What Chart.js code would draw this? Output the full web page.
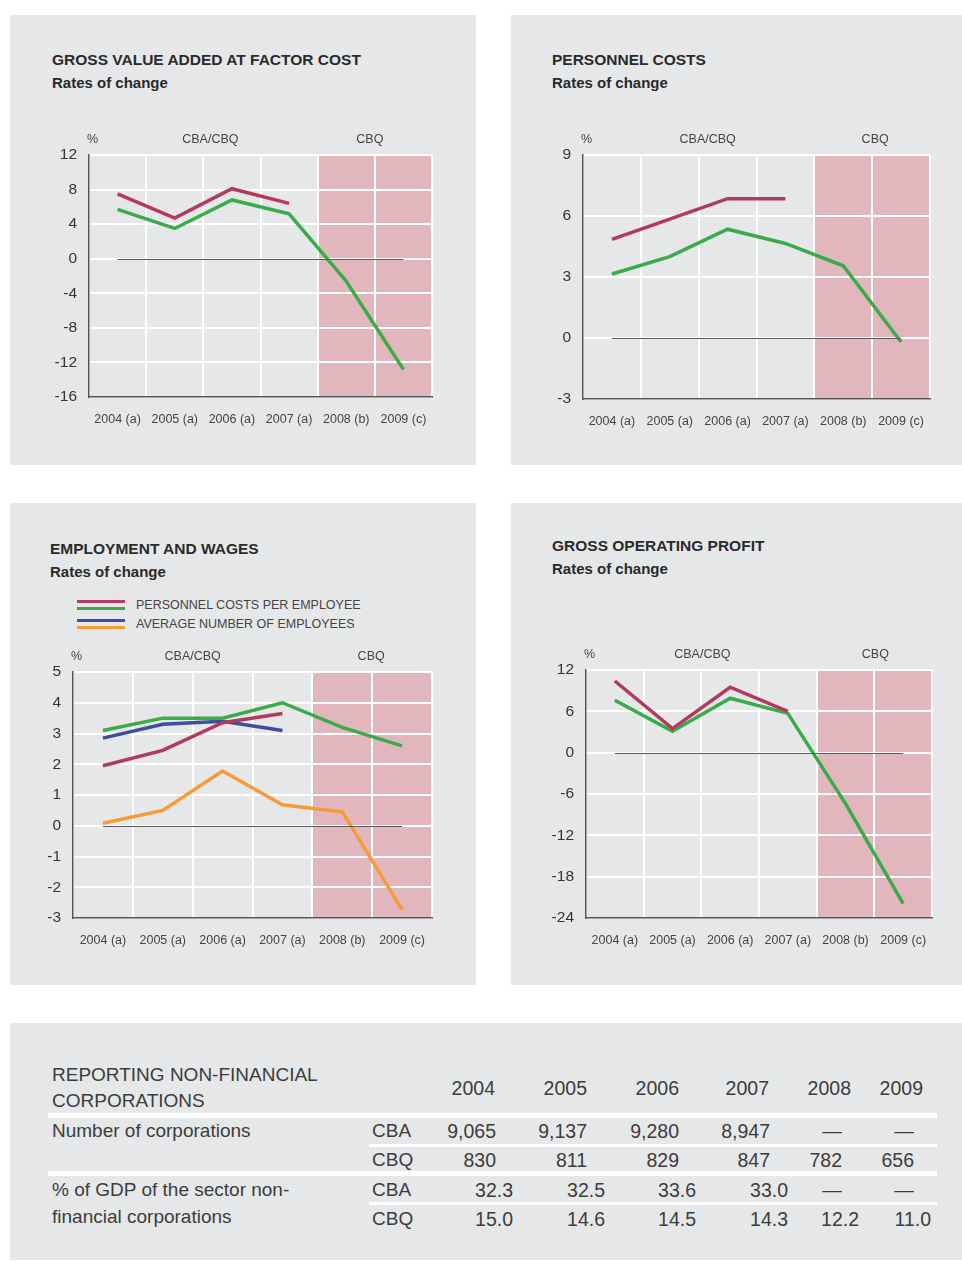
<!DOCTYPE html>
<html>
<head>
<meta charset="utf-8">
<script src="https://cdn.jsdelivr.net/npm/chart.js@4.4.1/dist/chart.umd.min.js"></script>
<style>
body { margin: 0; background: #fff; font-family: "Liberation Sans", Arial, sans-serif; }
#page { position: relative; width: 962px; height: 1261px; overflow: hidden; }
.panel { position: absolute; background: #e6e7e9; }
.title { position: absolute; font-weight: bold; font-size: 15.5px; color: #2a2a2a; line-height: 20px; white-space: nowrap; }
.sub { position: absolute; font-weight: bold; font-size: 15px; color: #2a2a2a; line-height: 20px; white-space: nowrap; }
.lg { position: absolute; font-size: 12.5px; color: #444; line-height: 16px; white-space: nowrap; }
.sw { position: absolute; height: 3.5px; width: 48px; }
canvas { position: absolute; }
.cell { position: absolute; font-size: 19.5px; color: #3c3c3c; line-height: 24px; white-space: nowrap; }
.cell.txt { font-size: 19px; }
.rule { position: absolute; background: #fff; }
</style>
</head>
<body>
<div id="page">
  <div class="panel" style="left:10px;top:15px;width:466px;height:450px"></div>
  <div class="panel" style="left:511px;top:15px;width:451px;height:450px"></div>
  <div class="panel" style="left:10px;top:503px;width:466px;height:482px"></div>
  <div class="panel" style="left:511px;top:503px;width:451px;height:482px"></div>
  <div class="panel" id="tablePanel" style="left:10px;top:1023px;width:952px;height:237px"></div>

  <div class="title" style="left:52px;top:50px">GROSS VALUE ADDED AT FACTOR COST</div>
  <div class="sub" style="left:52px;top:73px">Rates of change</div>
  <div class="title" style="left:552px;top:50px">PERSONNEL COSTS</div>
  <div class="sub" style="left:552px;top:73px">Rates of change</div>
  <div class="title" style="left:50px;top:539px">EMPLOYMENT AND WAGES</div>
  <div class="sub" style="left:50px;top:562px">Rates of change</div>
  <div class="title" style="left:552px;top:536px">GROSS OPERATING PROFIT</div>
  <div class="sub" style="left:552px;top:559px">Rates of change</div>

  <div id="legend"></div>

  <canvas id="c1"></canvas>
  <canvas id="c2"></canvas>
  <canvas id="c3"></canvas>
  <canvas id="c4"></canvas>
</div>

<script>
// ------------------------------
// DATA
// ------------------------------

const years = ["2004 (a)", "2005 (a)", "2006 (a)", "2007 (a)", "2008 (b)", "2009 (c)"];

// gross value added at factor cost
const gvaCba = [7.5, 4.7, 8.1, 6.4, null, null];
const gvaCbq = [5.7, 3.5, 6.8, 5.2, -2.6, -12.8];
const gvaTicks = [-16, -12, -8, -4, 0, 4, 8, 12];

// personnel costs
const pcCba = [4.85, 5.85, 6.85, 6.85, null, null];
const pcCbq = [3.15, 4.0, 5.35, 4.65, 3.55, -0.2];
const pcTicks = [-3, 0, 3, 6, 9];

// employment and wages
const costPerEmpCba = [1.95, 2.45, 3.35, 3.65, null, null];
const costPerEmpCbq = [3.1, 3.5, 3.5, 4.0, 3.2, 2.6];
const avgEmpCba = [2.85, 3.3, 3.4, 3.1, null, null];
const avgEmpCbq = [0.08, 0.5, 1.78, 0.68, 0.45, -2.73];
const empTicks = [-3, -2, -1, 0, 1, 2, 3, 4, 5];

// gross operating profit
const gopCba = [10.4, 3.5, 9.5, 6.0, null, null];
const gopCbq = [7.6, 3.1, 7.9, 5.7, -7.4, -21.9];
const gopTicks = [-24, -18, -12, -6, 0, 6, 12];

// reporting corporations table
const tableYears = ["2004", "2005", "2006", "2007", "2008", "2009"];
const corpCba = ["9,065", "9,137", "9,280", "8,947", "—", "—"];
const corpCbq = ["830", "811", "829", "847", "782", "656"];
const gdpCba = ["32.3", "32.5", "33.6", "33.0", "—", "—"];
const gdpCbq = ["15.0", "14.6", "14.5", "14.3", "12.2", "11.0"];

const RED = "#b3395f";
const GREEN = "#3bab49";
const BLUE = "#3c4e9c";
const ORANGE = "#f59b38";
const FONT = '"Liberation Sans", Arial, sans-serif';


// ------------------------------
// CHART HELPERS
// ------------------------------

// pink CBQ band behind the grid, zero line and header labels on top
const panelDecor = {
    id: "panelDecor",
    beforeDraw(chart) {
        const { ctx, chartArea: a, scales: { x } } = chart;
        const split = (x.getPixelForValue(3) + x.getPixelForValue(4)) / 2;
        ctx.save();
        ctx.fillStyle = "#e1b6bd";
        ctx.fillRect(split, a.top, a.right - split, a.bottom - a.top);
        ctx.restore();
    },
    afterDatasetsDraw(chart, args, opts) {
        const { ctx, chartArea: a, scales: { x, y } } = chart;
        const y0 = Math.round(y.getPixelForValue(0)) + 0.5;
        ctx.save();
        ctx.strokeStyle = "#5c5c5c";
        ctx.lineWidth = 1.2;
        ctx.beginPath();
        ctx.moveTo(x.getPixelForValue(0), y0);
        ctx.lineTo(x.getPixelForValue(5), y0);
        ctx.stroke();

        ctx.font = "12.5px " + FONT;
        ctx.fillStyle = "#444";
        ctx.textBaseline = "middle";
        const ty = a.top - 15;
        ctx.textAlign = "left";
        ctx.fillText("%", a.left - 2, ty);
        ctx.textAlign = "center";
        ctx.fillText("CBA/CBQ", (x.getPixelForValue(1) + x.getPixelForValue(2)) / 2 + opts.shiftA, ty);
        ctx.fillText("CBQ", (x.getPixelForValue(4) + x.getPixelForValue(5)) / 2 + opts.shiftB, ty);
        ctx.restore();
    }
};

function series(data, color) {
    return {
        data: data,
        borderColor: color,
        borderWidth: 3.5,
        pointRadius: 0,
        tension: 0,
        fill: false,
        spanGaps: false,
        borderJoinStyle: "miter",
        borderCapStyle: "butt"
    };
}

function makeChart(id, box, ticks, shiftA, shiftB, datasets) {
    const padL = 70, padT = 30, padR = 12, padB = 45;
    const cv = document.getElementById(id);
    cv.width = box[2] - box[0] + padL + padR;
    cv.height = box[3] - box[1] + padT + padB;
    cv.style.left = (box[0] - padL) + "px";
    cv.style.top = (box[1] - padT) + "px";

    return new Chart(cv, {
        type: "line",
        data: { labels: years, datasets: datasets },
        options: {
            responsive: false,
            animation: false,
            devicePixelRatio: 1,
            layout: { padding: { top: padT, right: padR, left: 0, bottom: 0 } },
            plugins: {
                legend: { display: false },
                tooltip: { enabled: false },
                panelDecor: { shiftA: shiftA, shiftB: shiftB }
            },
            scales: {
                x: {
                    offset: true,
                    grid: { color: "#ffffff", lineWidth: 2, offset: true, drawTicks: false },
                    border: { color: "#555", width: 1.5, z: 1 },
                    ticks: { color: "#444", font: { family: FONT, size: 12.5 }, padding: 15, maxRotation: 0 },
                    afterFit: (s) => { s.height = padB; }
                },
                y: {
                    min: ticks[0],
                    max: ticks[ticks.length - 1],
                    afterBuildTicks: (s) => { s.ticks = ticks.map(v => ({ value: v })); },
                    grid: { color: "#ffffff", lineWidth: 2, drawTicks: false },
                    border: { color: "#555", width: 1.5, z: 1 },
                    ticks: { color: "#333", font: { family: FONT, size: 15.5 }, padding: 12 },
                    afterFit: (s) => { s.width = padL; }
                }
            }
        },
        plugins: [panelDecor]
    });
}


// ------------------------------
// CHARTS
// ------------------------------

makeChart("c1", [89, 155, 432, 397], gvaTicks, 7, -5, [
    series(gvaCba, RED),
    series(gvaCbq, GREEN)
]);

makeChart("c2", [583, 155, 930, 399], pcTicks, 9, 3, [
    series(pcCba, RED),
    series(pcCbq, GREEN)
]);

makeChart("c3", [73, 672, 432, 918], empTicks, 0, -1, [
    series(costPerEmpCba, RED),
    series(costPerEmpCbq, GREEN),
    series(avgEmpCba, BLUE),
    series(avgEmpCbq, ORANGE)
]);

makeChart("c4", [586, 670, 932, 918], gopTicks, 1, 1, [
    series(gopCba, RED),
    series(gopCbq, GREEN)
]);


// ------------------------------
// LEGEND (employment and wages)
// ------------------------------

const legend = document.getElementById("legend");
const legendItems = [
    { text: "PERSONNEL COSTS PER EMPLOYEE", colors: [RED, GREEN], y: 605 },
    { text: "AVERAGE NUMBER OF EMPLOYEES", colors: [BLUE, ORANGE], y: 624 }
];
legendItems.forEach(item => {
    item.colors.forEach((c, i) => {
        const sw = document.createElement("div");
        sw.className = "sw";
        sw.style.left = "77px";
        sw.style.top = (item.y - 5.3 + i * 7.2) + "px";
        sw.style.background = c;
        legend.appendChild(sw);
    });
    const t = document.createElement("div");
    t.className = "lg";
    t.style.left = "136px";
    t.style.top = (item.y - 8) + "px";
    t.textContent = item.text;
    legend.appendChild(t);
});


// ------------------------------
// TABLE
// ------------------------------

const page = document.getElementById("page");

function cell(text, x, yc, align, cls) {
    const d = document.createElement("div");
    d.className = "cell" + (cls ? " " + cls : "");
    d.textContent = text;
    d.style.top = (yc - 12) + "px";
    if (align === "right") {
        d.style.left = (x - 200) + "px";
        d.style.width = "200px";
        d.style.textAlign = "right";
    } else if (align === "center") {
        d.style.left = (x - 50) + "px";
        d.style.width = "100px";
        d.style.textAlign = "center";
    } else {
        d.style.left = x + "px";
    }
    page.appendChild(d);
}

function rule(x1, x2, y, h) {
    const d = document.createElement("div");
    d.className = "rule";
    d.style.left = x1 + "px";
    d.style.width = (x2 - x1) + "px";
    d.style.top = y + "px";
    d.style.height = h + "px";
    page.appendChild(d);
}

const headRight = [495, 587, 679, 769, 851, 923];
const intRight = [496, 587, 679, 770, 842, 914];
const decRight = [513, 605, 696, 788, 859, 931];
const dashCenter = [0, 0, 0, 0, 832, 904];

function valueRow(values, rightEdges, yc) {
    values.forEach((v, i) => {
        if (v === "—") cell(v, dashCenter[i], yc, "center");
        else cell(v, rightEdges[i], yc, "right");
    });
}

cell("REPORTING NON-FINANCIAL", 52, 1075, "left", "txt");
cell("CORPORATIONS", 52, 1101, "left", "txt");
tableYears.forEach((y, i) => cell(y, headRight[i], 1088, "right"));

rule(48, 937, 1113, 5);
cell("Number of corporations", 52, 1131, "left", "txt");
cell("CBA", 372, 1131, "left", "txt");
valueRow(corpCba, intRight, 1131);

rule(369, 937, 1144, 3);
cell("CBQ", 372, 1160, "left", "txt");
valueRow(corpCbq, intRight, 1160);

rule(48, 937, 1171, 5);
cell("% of GDP of the sector non-", 52, 1190, "left", "txt");
cell("financial corporations", 52, 1217, "left", "txt");
cell("CBA", 372, 1190, "left", "txt");
valueRow(gdpCba, decRight, 1190);

rule(369, 937, 1202, 3);
cell("CBQ", 372, 1219, "left", "txt");
valueRow(gdpCbq, decRight, 1219);
</script>
</body>
</html>
